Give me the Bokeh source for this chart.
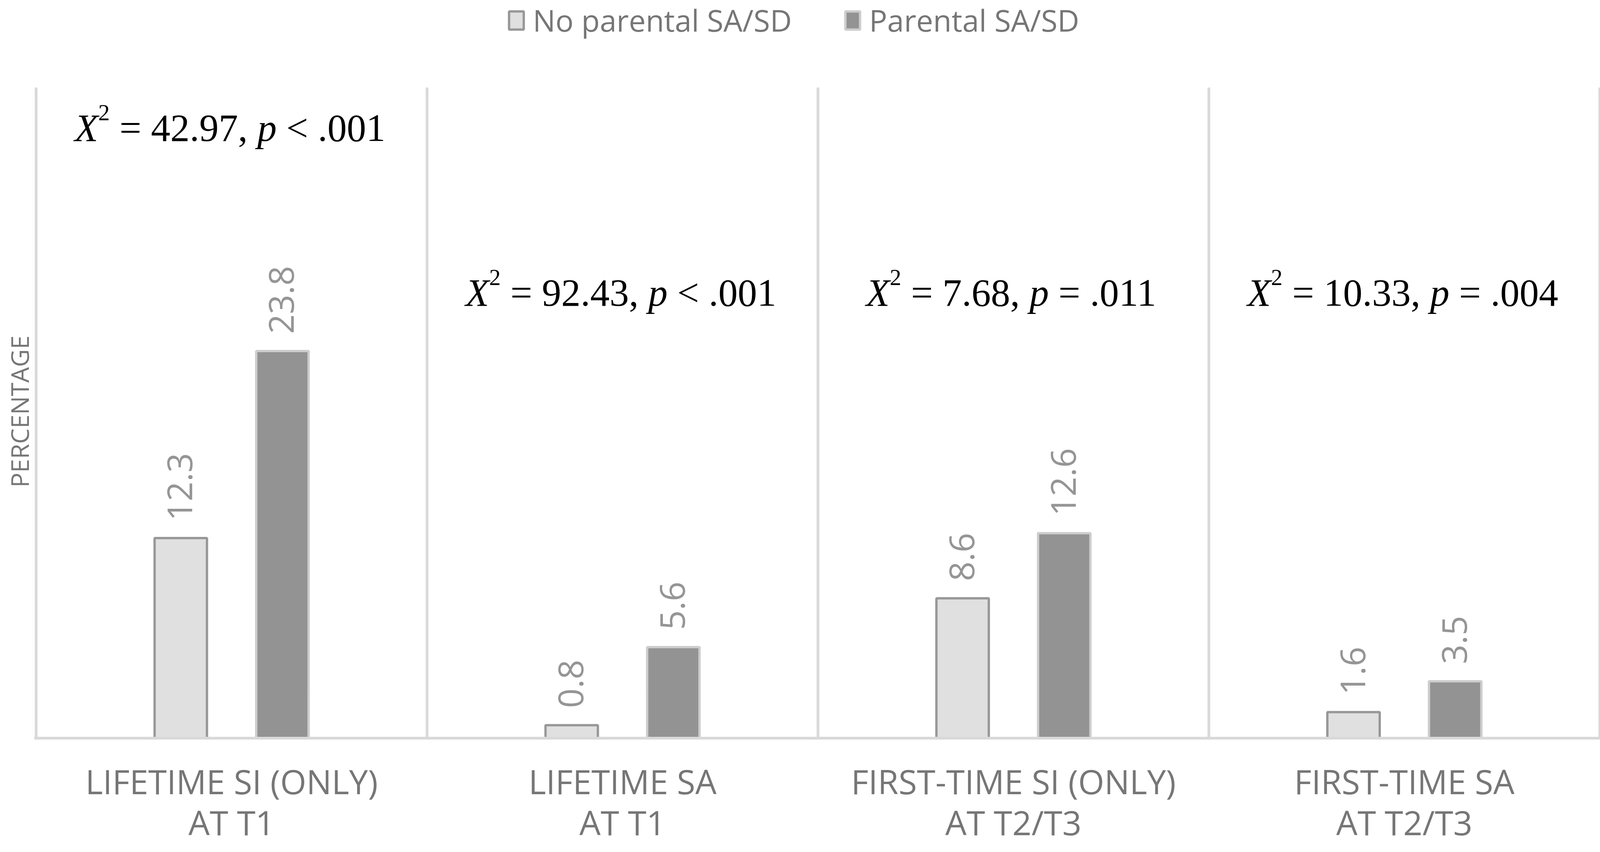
import math
from bokeh.plotting import figure
from bokeh.models import (ColumnDataSource, Range1d, FixedTicker, Legend,
                          LegendItem, Title)
from bokeh.core.properties import value
from bokeh.embed import file_html
from bokeh.resources import INLINE

# ---------------- data ----------------
categories = [
    "LIFETIME SI (ONLY)\nAT T1",
    "LIFETIME SA\nAT T1",
    "FIRST-TIME SI (ONLY)\nAT T2/T3",
    "FIRST-TIME SA\nAT T2/T3",
]
series_names = ["No parental SA/SD", "Parental SA/SD"]
no_parental = [12.3, 0.8, 8.6, 1.6]
parental = [23.8, 5.6, 12.6, 3.5]
chi_values = ["42.97", "92.43", "7.68", "10.33"]
p_ops = ["<", "<", "=", "="]
p_values = [".001", ".001", ".011", ".004"]
y_title = "PERCENTAGE"

# ---------------- layout constants ----------------
W, H = 4105, 2166
GRAY_TXT = "#767676"
GRID = "#D9D9D9"
OFF = 0.13
BW = 0.134
Y_MAX = 40          # top of the chart area
Y_EXT = 45.37       # extra room above it for the legend
ANN_Y = [37.52, 27.40, 27.40, 27.40]   # vertical middle of the annotation line
F = 99  # chi-square annotation font size

p = figure(width=W, height=H, output_backend="svg", toolbar_location=None,
           title=None,
           x_range=Range1d(-0.005, 4.005), y_range=Range1d(0, Y_EXT),
           min_border_left=87, min_border_right=5, min_border_top=0,
           min_border_bottom=273)
p.background_fill_color = "white"
p.border_fill_color = "white"
p.outline_line_color = None

xc = [i + 0.5 for i in range(len(categories))]
bounds_x = list(range(len(categories) + 1))

# category separators (chart-area verticals)
p.segment(x0=bounds_x, y0=[0] * len(bounds_x), x1=bounds_x,
          y1=[Y_MAX] * len(bounds_x), line_color=GRID, line_width=7,
          line_cap="butt")

src = ColumnDataSource(dict(
    x_no=[x - OFF for x in xc],
    x_p=[x + OFF for x in xc],
    no=no_parental,
    par=parental,
    no_lbl=[f"{v:.1f}" for v in no_parental],
    par_lbl=[f"{v:.1f}" for v in parental],
))

r1 = p.vbar(x="x_no", top="no", bottom=0, width=BW, source=src,
            fill_color="#E0E0E0", line_color="#989898", line_width=6)
r2 = p.vbar(x="x_p", top="par", bottom=0, width=BW, source=src,
            fill_color="#939393", line_color="#CDCDCD", line_width=6)

lbl_kw = dict(angle=math.pi / 2, text_align="left", text_baseline="middle",
              x_offset=-2, y_offset=-44, text_font=value("Open Sans"),
              text_font_size="88px", text_color="#959595")
p.text(x="x_no", y="no", text="no_lbl", source=src, **lbl_kw)
p.text(x="x_p", y="par", text="par_lbl", source=src, **lbl_kw)

# ---------------- chi-square annotations ----------------
TW = {' ': 250, '=': 564, '<': 564, '.': 250, ',': 250, 'X': 611, 'p': 500}


def tw(s, size):
    return sum(TW.get(c, 500) for c in s) / 1000.0 * size


ann = dict(x=[], y=[])
for k in range(5):
    ann[f"t{k+1}"] = []
    ann[f"o{k+1}"] = []
for i in range(len(categories)):
    pieces = ["X", "2", f" = {chi_values[i]}, ", "p", f" {p_ops[i]} {p_values[i]}"]
    sizes = [F, 0.6 * F, F, F, F]
    widths = [tw(s, sz) for s, sz in zip(pieces, sizes)]
    total = sum(widths)
    start = -total / 2 - 4
    ann["x"].append(xc[i])
    ann["y"].append(ANN_Y[i])
    for k, (s, sz, w) in enumerate(zip(pieces, sizes, widths)):
        lead = len(s) - len(s.lstrip(" "))
        ann[f"t{k+1}"].append(s.strip(" "))
        ann[f"o{k+1}"].append(start + tw(" " * lead, sz))
        start += w
asrc = ColumnDataSource(ann)
serif = value("Liberation Serif")
common = dict(source=asrc, text_align="left", text_baseline="middle",
              text_font=serif, text_color="black")
p.text(x="x", y="y", text="t1", x_offset="o1", text_font_style="italic",
       text_font_size=f"{F}px", **common)
p.text(x="x", y="y", text="t2", x_offset="o2", y_offset=-39,
       text_font_size=f"{int(0.6 * F)}px", **common)
p.text(x="x", y="y", text="t3", x_offset="o3", text_font_size=f"{F}px", **common)
p.text(x="x", y="y", text="t4", x_offset="o4", text_font_style="italic",
       text_font_size=f"{F}px", **common)
p.text(x="x", y="y", text="t5", x_offset="o5", text_font_size=f"{F}px", **common)

# ---------------- axes ----------------
p.xaxis.ticker = FixedTicker(ticks=xc)
p.xaxis.major_label_overrides = {x: c for x, c in zip(xc, categories)}
p.xaxis.major_label_text_font = "Open Sans"
p.xaxis.major_label_text_font_size = "86px"
p.xaxis.major_label_text_color = GRAY_TXT
p.xaxis.major_label_text_line_height = 0.9
p.xaxis.major_label_standoff = 45
p.xaxis.axis_line_color = GRID
p.xaxis.axis_line_width = 7
p.xaxis.major_tick_line_color = None
p.xaxis.minor_tick_line_color = None

p.yaxis.visible = False
p.xgrid.grid_line_color = None
p.ygrid.grid_line_color = None

# y-axis title, centred on the chart area (0..Y_MAX)
p.add_layout(Title(text=y_title, align="left", offset=642, vertical_align="top",
                   standoff=-12, text_font="Open Sans", text_font_size="63px",
                   text_font_style="normal", text_color=GRAY_TXT), "left")

# ---------------- legend ----------------
legend = Legend(
    items=[LegendItem(label=series_names[0], renderers=[r1]),
           LegendItem(label=series_names[1], renderers=[r2])],
    orientation="horizontal", location=(1211, 1786),
    padding=0, margin=0, spacing=132, label_standoff=19,
    glyph_width=47, glyph_height=58,
    border_line_color=None, background_fill_alpha=0,
    label_text_font="Open Sans", label_text_font_size="77px",
    label_text_color=GRAY_TXT,
)
p.add_layout(legend, "center")

open("out.html", "w").write(file_html(p, INLINE))
